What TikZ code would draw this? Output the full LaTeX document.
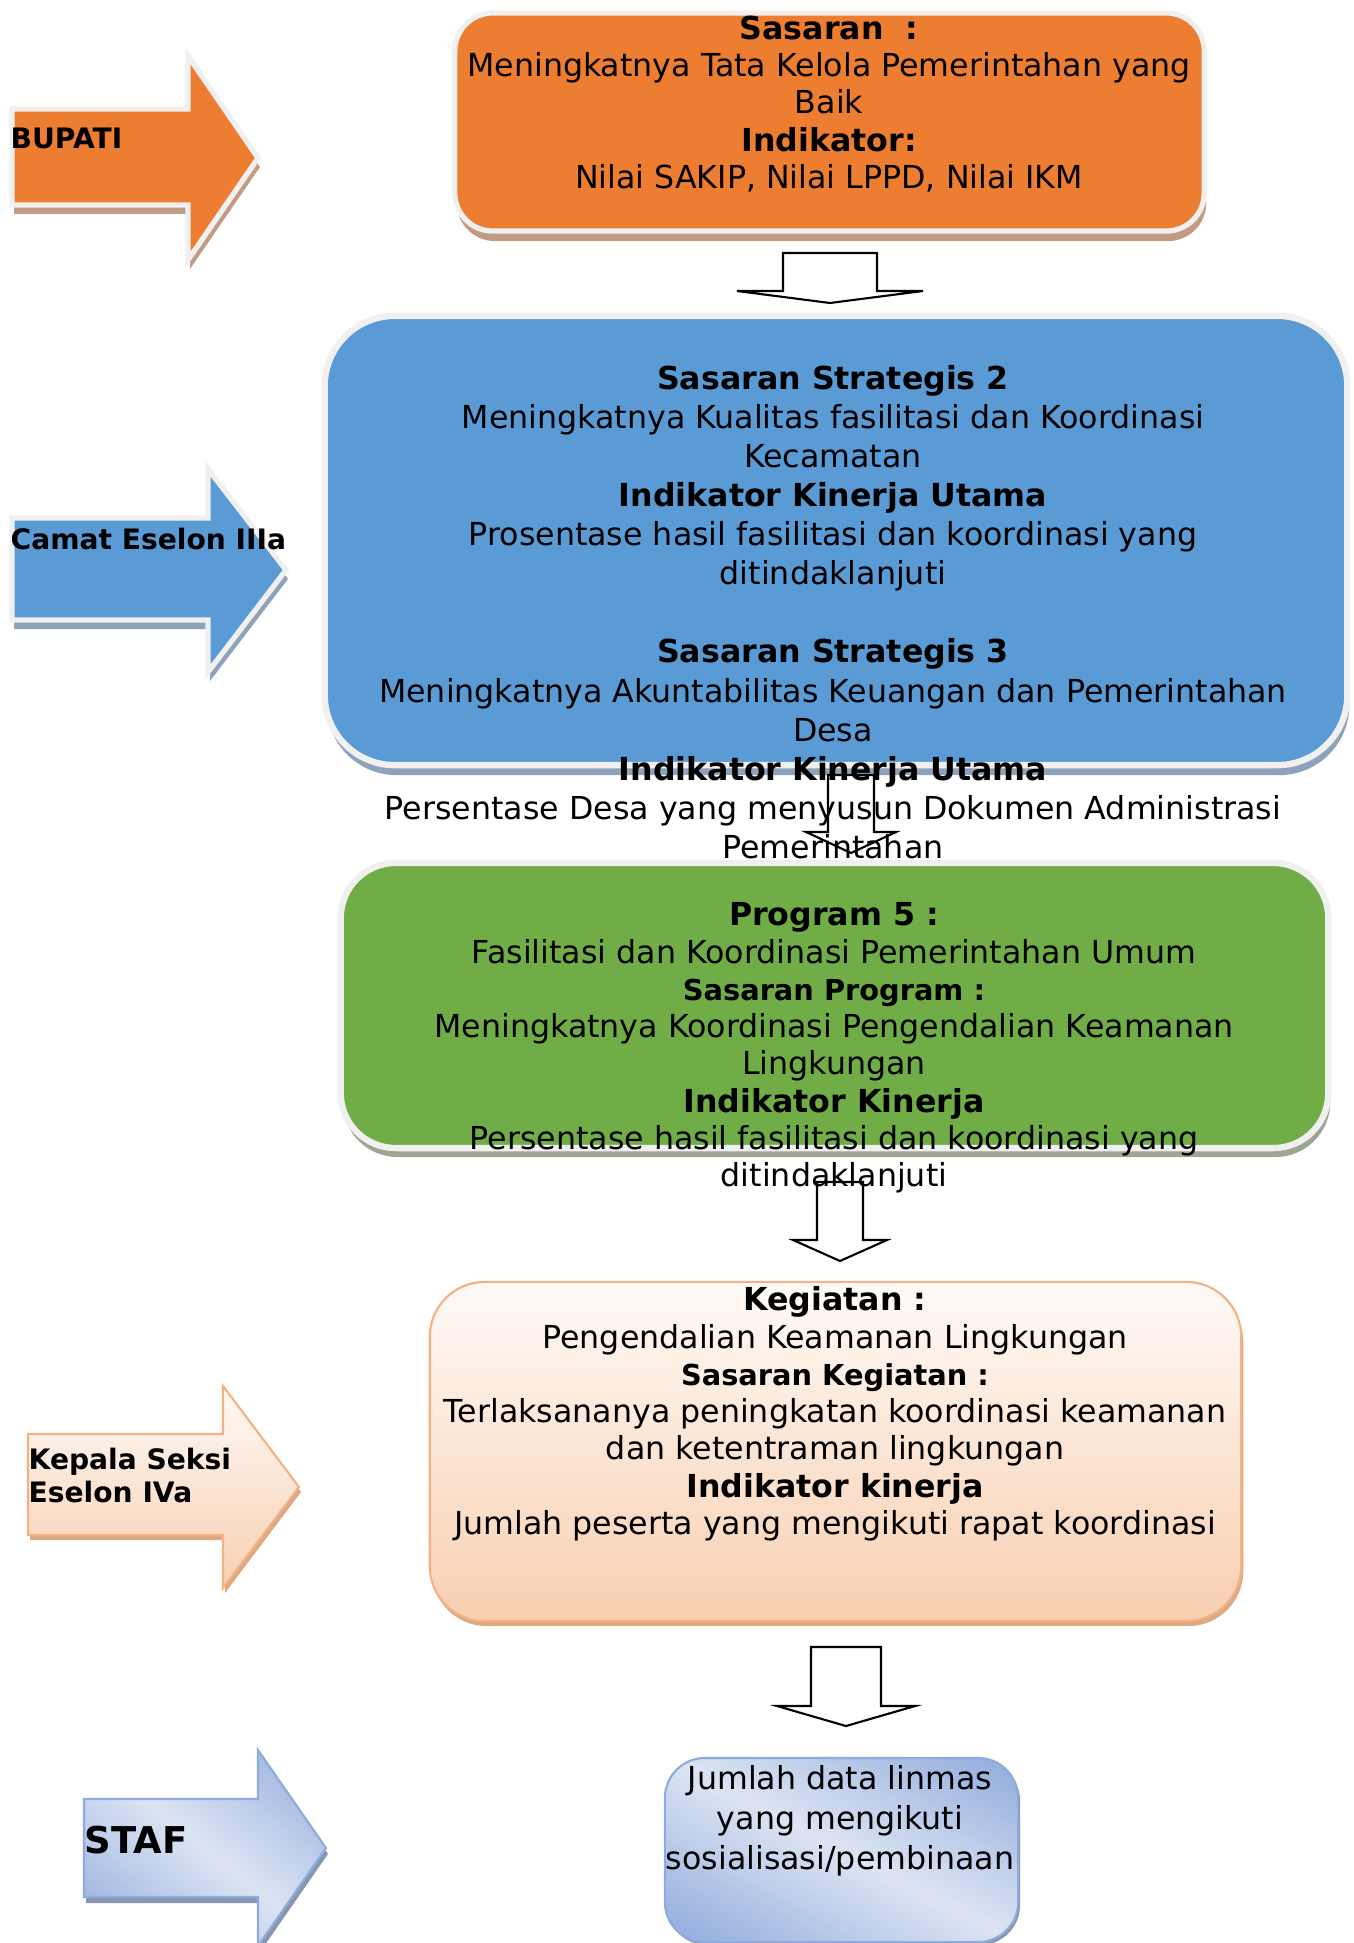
\documentclass[tikz,border=0pt]{standalone}
\usepackage{fontspec}
\setmainfont{DejaVu Sans}
\usetikzlibrary{shadows}
\definecolor{bupatiorange}{HTML}{ED7D31}
\definecolor{bupatishadow}{HTML}{C39B82}
\definecolor{camatblue}{HTML}{5B9BD5}
\definecolor{camatshadow}{HTML}{8EA2BA}
\definecolor{progreen}{HTML}{70AD47}
\definecolor{proshadow}{HTML}{9CA693}
\definecolor{rim}{HTML}{F0F0F0}
\definecolor{peachlight}{HTML}{FEFAF7}
\definecolor{peachdark}{HTML}{F8CFB0}
\definecolor{peachline}{HTML}{F4B183}
\definecolor{peachshadow}{HTML}{DDA983}
\definecolor{stafdark}{HTML}{8FAADC}
\definecolor{stafshadow}{HTML}{8797B0}
\pgfdeclarefunctionalshading{stafshade}{\pgfpoint{-50bp}{-50bp}}{\pgfpoint{50bp}{50bp}}{}{add 50 div abs dup dup -0.302 mul 0.863 add exch -0.227 mul 0.894 add 3 -1 roll -0.090 mul 0.953 add}
\newcommand{\subjudul}[1]{{\fontsize{8.2}{10.6}\selectfont\textbf{#1}}}
\begin{document}
\begin{tikzpicture}[x=0.01cm,y=-0.01cm,
	rimbox/.style={draw=rim,line width=1.8pt},
	shadowed/.style 2 args={drop shadow={fill=#1,opacity=1,shadow xshift=0.02cm,shadow yshift=-#2}},
	stafbox/.style={shade,shading=stafshade,draw=stafdark,line width=0.6pt},
	downblock/.style={draw=black,fill=white,line width=0.6pt},
	boxtext/.style={align=center,inner sep=0pt,font=\fontsize{9}{10.6}\selectfont},
	sidetext/.style={align=left,inner sep=0pt,font=\fontsize{8}{9.4}\selectfont\bfseries}]
	\useasboundingbox (0,0) rectangle (1353,1943);
	\node[rimbox,line width=1.5pt,shadowed={bupatishadow}{0.1cm},fill=bupatiorange,rounded corners=0.38cm,minimum width=7.49cm,minimum height=2.18cm] (sasaran) at (829.5,122) {};
	\node[rimbox,shadowed={camatshadow}{0.1cm},fill=camatblue,rounded corners=0.7cm,minimum width=10.22cm,minimum height=4.49cm] (strategis) at (836,540.5) {};
	\node[rimbox,shadowed={proshadow}{0.09cm},fill=progreen,rounded corners=0.55cm,minimum width=9.87cm,minimum height=2.85cm] (program) at (834.5,1005.5) {};
	\node[shadowed={peachshadow}{0.05cm},draw=peachline,line width=0.6pt,top color=peachlight,bottom color=peachdark,rounded corners=0.55cm,minimum width=8.11cm,minimum height=3.39cm] (kegiatan) at (835.5,1451.5) {};
	\node[stafbox,shadowed={stafshadow}{0.03cm},rounded corners=0.4cm,minimum width=3.53cm,minimum height=1.84cm] (linmas) at (841.5,1850) {};
	\draw[rimbox,line width=1.5pt,shadowed={bupatishadow}{0.09cm},fill=bupatiorange] (12,109) -- (188,109) -- (188,56) -- (258,158) -- (188,260) -- (188,205) -- (12,205) -- cycle;
	\draw[rimbox,line width=1.5pt,shadowed={camatshadow}{0.09cm},fill=camatblue] (12,518) -- (208,518) -- (208,469) -- (286,570) -- (208,672) -- (208,620) -- (12,620) -- cycle;
	\shadedraw[shadowed={peachshadow}{0.05cm},draw=peachline,line width=0.6pt,top color=peachlight,bottom color=peachdark] (28,1434) -- (223,1434) -- (223,1386) -- (299,1487) -- (223,1588) -- (223,1535) -- (28,1535) -- cycle;
	\shadedraw[stafbox,shadowed={stafshadow}{0.06cm}] (84,1799) -- (258,1799) -- (258,1750) -- (326,1848) -- (258,1946) -- (258,1897) -- (84,1897) -- cycle;
	\coordinate (turun1) at (830,253);
	\coordinate (turun2) at (851,775);
	\coordinate (turun3) at (840,1182);
	\coordinate (turun4) at (846,1647);
	\draw[downblock] (turun1) ++(-47,0) -- ++(94,0) -- ++(0,38) -- ++(46,0) -- ++(-93,12) -- ++(-93,-12) -- ++(46,0) -- cycle;
	\draw[downblock] (turun2) ++(-23,0) -- ++(46,0) -- ++(0,57) -- ++(22,0) -- ++(-45,21) -- ++(-45,-21) -- ++(22,0) -- cycle;
	\draw[downblock] (turun3) ++(-23,0) -- ++(46,0) -- ++(0,58) -- ++(24,0) -- ++(-47,21) -- ++(-47,-21) -- ++(24,0) -- cycle;
	\draw[downblock] (turun4) ++(-35,0) -- ++(70,0) -- ++(0,59) -- ++(34,0) -- ++(-69,20) -- ++(-69,-20) -- ++(34,0) -- cycle;
	\node[boxtext,anchor=north] (sasarantext) at (829,15) {\textbf{Sasaran~ :}\\Meningkatnya Tata Kelola Pemerintahan yang\\Baik\\\textbf{Indikator:}\\Nilai SAKIP, Nilai LPPD, Nilai IKM};
	\node[boxtext,anchor=north,font=\fontsize{9}{11.1}\selectfont] (strategistext) at (833,365) {\textbf{Sasaran Strategis 2}\\Meningkatnya Kualitas fasilitasi dan Koordinasi\\Kecamatan\\\textbf{Indikator Kinerja Utama}\\Prosentase hasil fasilitasi dan koordinasi yang\\ditindaklanjuti\\[11.1pt]\textbf{Sasaran Strategis 3}\\Meningkatnya Akuntabilitas Keuangan dan Pemerintahan\\Desa\\\textbf{Indikator Kinerja Utama}\\Persentase Desa yang menyusun Dokumen Administrasi\\Pemerintahan};
	\node[boxtext,anchor=north] (programtext) at (834,902) {\textbf{Program 5 :}\\Fasilitasi dan Koordinasi Pemerintahan Umum\\\subjudul{Sasaran Program :}\\Meningkatnya Koordinasi Pengendalian Keamanan\\Lingkungan\\\textbf{Indikator Kinerja}\\Persentase hasil fasilitasi dan koordinasi yang\\ditindaklanjuti};
	\node[boxtext,anchor=north] (kegiatantext) at (835,1286) {\textbf{Kegiatan :}\\Pengendalian Keamanan Lingkungan\\\subjudul{Sasaran Kegiatan :}\\Terlaksananya peningkatan koordinasi keamanan\\dan ketentraman lingkungan\\\textbf{Indikator kinerja}\\Jumlah peserta yang mengikuti rapat koordinasi};
	\node[boxtext,anchor=north,font=\fontsize{9}{11.4}\selectfont] (linmastext) at (840,1765) {Jumlah data linmas\\yang mengikuti\\sosialisasi/pembinaan};
	\node[sidetext,anchor=west] (bupati) at (10,138) {BUPATI};
	\node[sidetext,anchor=west] (camat) at (10,539) {Camat Eselon IIIa};
	\node[sidetext,anchor=north west] (kasi) at (28,1447) {Kepala Seksi\\Eselon IVa};
	\node[sidetext,anchor=west,font=\fontsize{10.5}{12}\selectfont\bfseries] (staf) at (84,1840) {STAF};
\end{tikzpicture}
\end{document}
